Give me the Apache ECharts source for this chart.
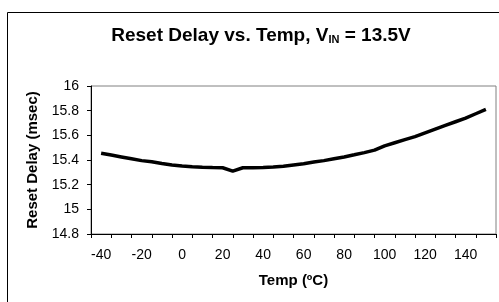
<!DOCTYPE html>
<html>
<head>
<meta charset="utf-8">
<script src="https://cdn.jsdelivr.net/npm/echarts@6/dist/echarts.min.js"></script>
<style>
  html, body { margin: 0; padding: 0; background: #fff; }
  #chart { width: 499px; height: 302px; }
</style>
</head>
<body>
<div id="chart"></div>
<script>
// category labels of the x axis (Excel style, ticks between categories)
const tempCategories = ['-40', '-30', '-20', '-10', '0', '10', '20', '30', '40', '50',
    '60', '70', '80', '90', '100', '110', '120', '130', '140', '150'];

// measured points, temperature in degC
const temps = [-40, -35, -30, -25, -20, -15, -10, -5, 0, 5, 10, 15, 20, 25, 30, 35, 40, 45,
    50, 55, 60, 65, 70, 75, 80, 85, 90, 95, 100, 105, 110, 115, 120, 125, 130, 135, 140, 145, 150];
// reset delay, msec
const delays = [15.455, 15.44, 15.425, 15.41, 15.395, 15.385, 15.372, 15.36, 15.352, 15.346,
    15.342, 15.339, 15.337, 15.31, 15.337, 15.338, 15.34, 15.343, 15.35, 15.36,
    15.37, 15.383, 15.395, 15.41, 15.425, 15.442, 15.46, 15.48, 15.515, 15.54,
    15.565, 15.59, 15.62, 15.65, 15.68, 15.71, 15.74, 15.775, 15.81];

const font = 'Liberation Sans, Arial, sans-serif';

const chart = echarts.init(document.getElementById('chart'), null, { renderer: 'canvas' });

chart.setOption({
    animation: false,
    backgroundColor: '#fff',
    title: {
        text: '{a|Reset Delay vs. Temp, V}{sub|IN}{a| = 13.5V}',
        left: 256,
        textAlign: 'center',
        top: 21,
        textStyle: {
            rich: {
                a: { fontFamily: font, fontSize: 19, fontWeight: 'bold', color: '#000' },
                sub: { fontFamily: font, fontSize: 11, fontWeight: 'bold', color: '#000', verticalAlign: 'bottom', padding: [6, 0, 0, 0] }
            }
        }
    },
    graphic: [{
        type: 'rect',
        shape: { x: 7.5, y: 12.5, width: 600, height: 400 },
        style: { fill: null, stroke: '#000', lineWidth: 1 },
        silent: true
    }],
    grid: {
        left: 91, right: 3, top: 86, bottom: 68,
        show: true, borderColor: '#808080', borderWidth: 1
    },
    xAxis: [{
        type: 'category',
        data: tempCategories,
        boundaryGap: true,
        name: 'Temp (ºC)',
        nameLocation: 'middle',
        nameGap: 39,
        nameTextStyle: { fontFamily: font, fontSize: 15, fontWeight: 'bold', color: '#000' },
        axisLine: { lineStyle: { color: '#000', width: 1 } },
        axisTick: { show: true, interval: 0, length: 4, lineStyle: { color: '#000' } },
        axisLabel: { interval: 1, fontFamily: font, fontSize: 14, color: '#000', margin: 14 },
        splitLine: { show: false }
    }, {
        type: 'value',
        min: -45,
        max: 155,
        show: false
    }],
    yAxis: {
        type: 'value',
        min: 14.8,
        max: 16,
        interval: 0.2,
        name: 'Reset Delay (msec)',
        nameLocation: 'middle',
        nameGap: 50,
        nameTextStyle: { fontFamily: font, fontSize: 15, fontWeight: 'bold', color: '#000' },
        axisLine: { show: true, onZero: false, lineStyle: { color: '#000', width: 1 } },
        axisTick: { show: true, length: 4, lineStyle: { color: '#000' } },
        axisLabel: {
            fontFamily: font, fontSize: 14, color: '#000', margin: 12,
            formatter: v => String(Math.round(v * 10) / 10)
        },
        splitLine: { show: false }
    },
    series: [{
        type: 'line',
        xAxisIndex: 1,
        data: temps.map((t, i) => [t, delays[i]]),
        showSymbol: false,
        lineStyle: { color: '#000', width: 3.5 }
    }]
});
</script>
</body>
</html>
